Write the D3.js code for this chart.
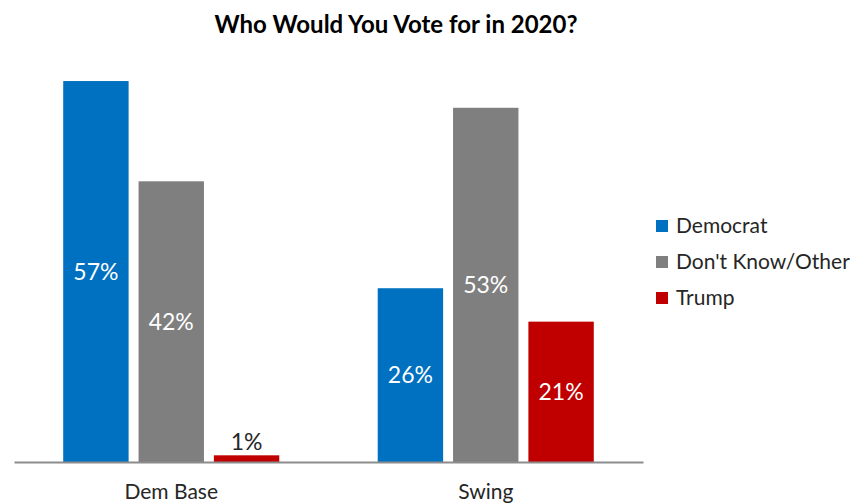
<!DOCTYPE html>
<html>
<head>
<meta charset="utf-8">
<script src="https://cdn.jsdelivr.net/npm/d3@7"></script>
<style>
  html, body { margin: 0; padding: 0; background: #fff; }
  svg { display: block; font-family: Lato, "Open Sans", sans-serif; }
</style>
</head>
<body>
<svg id="chart" width="859" height="503"></svg>
<script>
// Survey groups and answer options
const groups = ["Dem Base", "Swing"];
const series = ["Democrat", "Don't Know/Other", "Trump"];
const colors = ["#0070C0", "#7F7F7F", "#C00000"];

// Percent per answer option, one array per option, ordered like `groups`
const democrat = [57, 26];
const dontKnow = [42, 53];
const trump = [1, 21];
const seriesValues = [democrat, dontKnow, trump];

const title = "Who Would You Vote for in 2020?";

const svg = d3.select("#chart");

const baseY = 462;
const y = d3.scaleLinear().domain([0, 60]).range([baseY, 61]);

const x0 = d3.scaleBand()
  .domain(groups)
  .range([14, 643])
  .paddingInner(0.313)
  .paddingOuter(0.1565);

const x1 = d3.scaleBand()
  .domain(series)
  .range([0, x0.bandwidth()])
  .paddingInner(0.132)
  .paddingOuter(0);

const color = d3.scaleOrdinal().domain(series).range(colors);

// Flatten into one record per bar
const rows = [];
groups.forEach((g, gi) => {
  series.forEach((s, si) => {
    rows.push({ group: g, series: s, value: seriesValues[si][gi] });
  });
});

// Title
svg.append("text")
  .attr("x", 396)
  .attr("y", 33)
  .attr("text-anchor", "middle")
  .attr("font-size", 24)
  .attr("font-weight", "bold")
  .attr("fill", "#000")
  .text(title);

// Bars
const bars = svg.append("g");
bars.selectAll("rect")
  .data(rows)
  .join("rect")
  .attr("x", d => x0(d.group) + x1(d.series))
  .attr("y", d => y(d.value))
  .attr("width", x1.bandwidth())
  .attr("height", d => baseY - y(d.value))
  .attr("fill", d => color(d.series));

// Value labels: centred inside the bar, or just above it when the bar is too short
bars.selectAll("text")
  .data(rows)
  .join("text")
  .attr("x", d => x0(d.group) + x1(d.series) + x1.bandwidth() / 2)
  .attr("y", d => {
    const h = baseY - y(d.value);
    return h < 30 ? y(d.value) - 5 : (y(d.value) + baseY) / 2 + 8;
  })
  .attr("text-anchor", "middle")
  .attr("font-size", 23)
  .attr("fill", d => (baseY - y(d.value)) < 30 ? "#262626" : "#fff")
  .text(d => d.value + "%");

// Category axis
const xAxis = d3.axisBottom(x0).tickSize(0).tickPadding(22);
const axisG = svg.append("g")
  .attr("transform", `translate(0,${baseY})`)
  .call(xAxis);
axisG.select(".domain")
  .attr("stroke", "#8C8C8C")
  .attr("stroke-width", 2);
axisG.selectAll(".tick text")
  .attr("font-family", "Lato, 'Open Sans', sans-serif")
  .attr("font-size", 21)
  .attr("fill", "#262626");

// Legend
const legend = svg.append("g").attr("transform", "translate(656,226)");
const item = legend.selectAll("g")
  .data(series)
  .join("g")
  .attr("transform", (d, i) => `translate(0,${i * 36})`);
item.append("rect")
  .attr("x", 0)
  .attr("y", -6)
  .attr("width", 12)
  .attr("height", 12)
  .attr("fill", d => color(d));
item.append("text")
  .attr("x", 20)
  .attr("y", 7)
  .attr("font-size", 21)
  .attr("fill", "#262626")
  .text(d => d);
</script>
</body>
</html>
